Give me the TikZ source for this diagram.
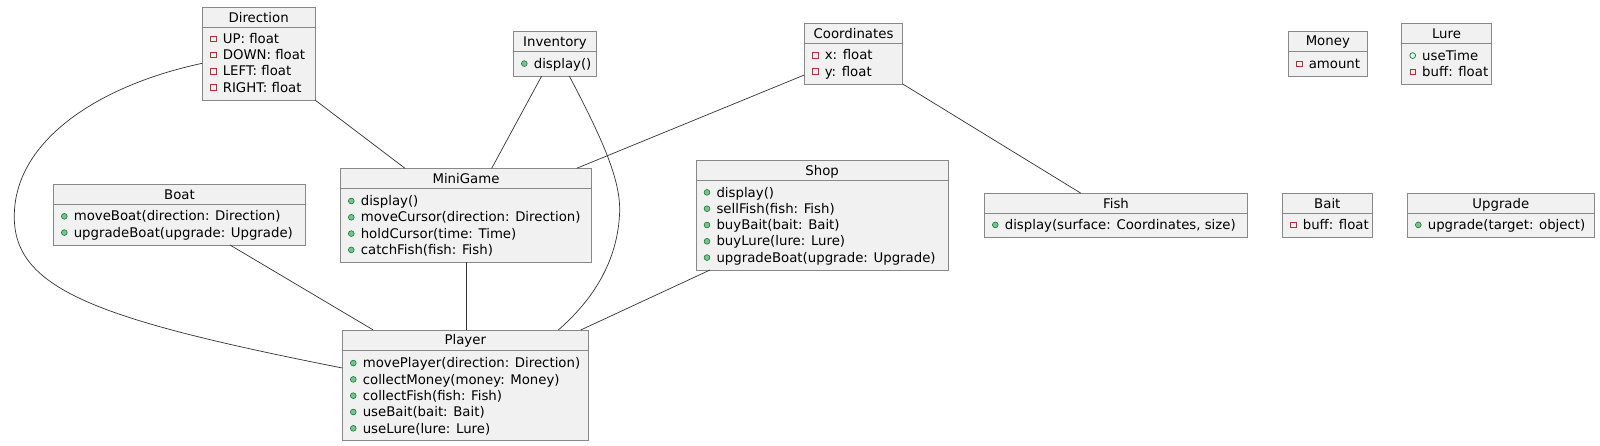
\documentclass[tikz,border=0pt]{standalone}
\usepackage{fontspec}
\setmainfont{DejaVu Sans}
\definecolor{boxfill}{HTML}{F1F1F1}
\definecolor{boxline}{HTML}{888888}
\definecolor{connc}{HTML}{333333}
\definecolor{privred}{HTML}{C82930}
\definecolor{pubgreen}{HTML}{038048}
\definecolor{pubfill}{HTML}{84BE84}
\newcount\memcnt
\tikzset{
 classbox/.style={draw=boxline, fill=boxfill, line width=0.8pt, inner sep=0pt, outer sep=0pt, anchor=north west},
 sepline/.style={draw=boxline, line width=0.8pt},
 txt/.style={inner sep=0pt, outer sep=0pt, font=\fontsize{13.3}{16}\selectfont, text=black},
 connector/.style={draw=connc, line width=0.7pt},
 privicon/.style={draw=privred, line width=0.7pt},
 pubmicon/.style={draw=pubgreen, fill=pubfill, line width=0.6pt},
 pubficon/.style={draw=pubgreen, line width=0.7pt},
}
% name, title, L, T, R, B
\newcommand\umlbox[6]{%
 \node[classbox, minimum width={#5pt-#3pt}, minimum height={#6pt-#4pt}] (#1) at (#3,#4) {};
 \draw[sepline] (#3,#4+20) -- (#5,#4+20);
 \node[txt, anchor=base] (#1-title) at ({(#3+#5)/2},#4+14.8) {#2};
}
\newcommand\mpriv[3]{\global\advance\memcnt by 1
 \draw[privicon] (#1+8.2,#2-7.5) rectangle (#1+13.8,#2-1.9);
 \node[txt, anchor=base west] (mem\the\memcnt) at (#1+20.5,#2) {#3};}
\newcommand\mpubm[3]{\global\advance\memcnt by 1
 \draw[pubmicon] (#1+11,#2-4.7) circle (2.9pt);
 \node[txt, anchor=base west] (mem\the\memcnt) at (#1+20.5,#2) {#3};}
\newcommand\mpubf[3]{\global\advance\memcnt by 1
 \draw[pubficon] (#1+11,#2-4.7) circle (2.9pt);
 \node[txt, anchor=base west] (mem\the\memcnt) at (#1+20.5,#2) {#3};}
\begin{document}
\begin{tikzpicture}[x=1pt,y=-1pt]
\useasboundingbox[fill=white] (0,0) rectangle (1600,446);

\umlbox{direction}{Direction}{202.3}{7.3}{315}{100}
\mpriv{202.3}{43.4}{UP: float}
\mpriv{202.3}{59.7}{DOWN: float}
\mpriv{202.3}{76.0}{LEFT: float}
\mpriv{202.3}{92.3}{RIGHT: float}

\umlbox{inventory}{Inventory}{513.3}{31.7}{596.7}{76}
\mpubm{513.3}{68.3}{display()}

\umlbox{coordinates}{Coordinates}{804.3}{23.3}{902.7}{84}
\mpriv{804.3}{60.0}{x: float}
\mpriv{804.3}{76.3}{y: float}

\umlbox{money}{Money}{1288.3}{31}{1367.3}{76.3}
\mpriv{1288.3}{68.6}{amount}

\umlbox{lure}{Lure}{1401.7}{23.3}{1491.3}{84.3}
\mpubf{1401.7}{60.3}{useTime}
\mpriv{1401.7}{76.6}{buff: float}

\umlbox{boat}{Boat}{53.3}{184.3}{305.7}{245}
\mpubm{53.3}{221.0}{moveBoat(direction: Direction)}
\mpubm{53.3}{237.3}{upgradeBoat(upgrade: Upgrade)}

\umlbox{minigame}{MiniGame}{340.3}{168.3}{591.7}{262.3}
\mpubm{340.3}{205.7}{display()}
\mpubm{340.3}{222.0}{moveCursor(direction: Direction)}
\mpubm{340.3}{238.3}{holdCursor(time: Time)}
\mpubm{340.3}{254.6}{catchFish(fish: Fish)}

\umlbox{shop}{Shop}{696}{160.7}{948.3}{270}
\mpubm{696}{197.1}{display()}
\mpubm{696}{213.4}{sellFish(fish: Fish)}
\mpubm{696}{229.7}{buyBait(bait: Bait)}
\mpubm{696}{246.0}{buyLure(lure: Lure)}
\mpubm{696}{262.3}{upgradeBoat(upgrade: Upgrade)}

\umlbox{fish}{Fish}{984.3}{193.3}{1247.7}{237.3}
\mpubm{984.3}{229.6}{display(surface: Coordinates, size)}

\umlbox{bait}{Bait}{1282.3}{193.3}{1372.3}{237.3}
\mpriv{1282.3}{229.6}{buff: float}

\umlbox{upgrade}{Upgrade}{1407.3}{193.3}{1594.3}{237.3}
\mpubm{1407.3}{229.6}{upgrade(target: object)}

\umlbox{player}{Player}{342.3}{330}{588.3}{440.7}
\mpubm{342.3}{367.8}{movePlayer(direction: Direction)}
\mpubm{342.3}{384.1}{collectMoney(money: Money)}
\mpubm{342.3}{400.4}{collectFish(fish: Fish)}
\mpubm{342.3}{416.7}{useBait(bait: Bait)}
\mpubm{342.3}{433.0}{useLure(lure: Lure)}

% connectors
\draw[connector] (direction.south east) -- ([xshift=64.7pt]minigame.north west);
\draw[connector] ([xshift=28.4pt]inventory.south west) -- ([xshift=151.4pt]minigame.north west);
\draw[connector] ([yshift=9pt]coordinates.south west) -- ([xshift=236.4pt]minigame.north west);
\draw[connector] (coordinates.south east) -- ([xshift=96.7pt]fish.north west);
\draw[connector] ([xshift=56pt]inventory.south west) .. controls (600,135) and (622,180) .. (619.5,215)
  .. controls (617,260) and (595,298) .. ([xshift=216pt]player.north west);
\draw[connector] (minigame.south) -- (minigame.south |- player.north);
\draw[connector] ([xshift=176.7pt]boat.south west) -- ([xshift=31pt]player.north west);
\draw[connector] ([xshift=14pt]shop.south west) -- ([xshift=238.4pt]player.north west);
\draw[connector] ([yshift=-56pt]direction.north west) .. controls (100,85) and (14,140) .. (14.3,216.7)
  .. controls (14,290) and (100,320) .. ([yshift=-38pt]player.north west);
\end{tikzpicture}
\end{document}
